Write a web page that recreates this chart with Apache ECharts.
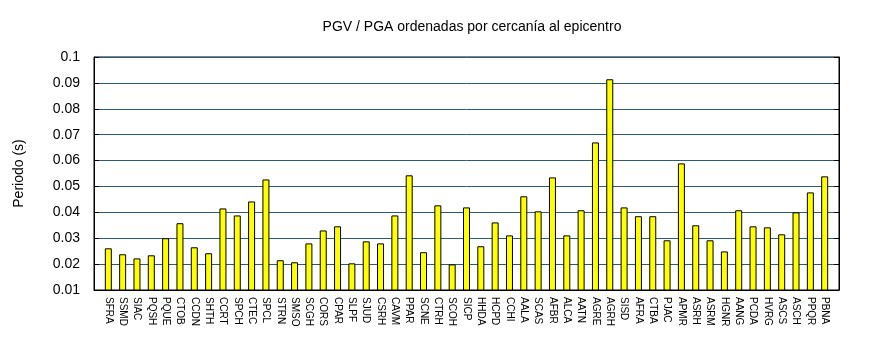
<!DOCTYPE html>
<html>
<head>
<meta charset="utf-8">
<script src="https://cdn.jsdelivr.net/npm/echarts@6/dist/echarts.min.js"></script>
<style>html,body{margin:0;padding:0;background:#fff}#c{width:870px;height:350px}</style>
</head>
<body>
<div id="c"></div>
<script>
const categories = ["SFRA","SSMD","SIAC","PQSH","PQUE","CTOB","CCDN","SHTH","CCRT","SPCH","CTEC","SPCL","STRN","SMSO","SCGH","CORS","CPAR","SLPF","SJUD","CSRH","CAVM","PPAR","SCNE","CTRH","SCOH","SICP","HHDA","HCPD","CCHI","AALA","SCAS","AFBR","ALCA","AATN","AGRE","AGRH","SISD","AFRA","CTBA","PJAC","APMR","ASRH","ASRM","HGNR","AANG","PCDA","HVRG","ASCS","ASCH","PPQR","PBNA"];
const periodo = [0.0261,0.0238,0.0222,0.0234,0.0300,0.0358,0.0265,0.0242,0.0415,0.0388,0.0442,0.0527,0.0215,0.0207,0.0280,0.0330,0.0346,0.0203,0.0288,0.0280,0.0388,0.0543,0.0246,0.0427,0.0199,0.0419,0.0269,0.0361,0.0311,0.0462,0.0404,0.0535,0.0311,0.0408,0.0670,0.0914,0.0419,0.0385,0.0385,0.0292,0.0589,0.0350,0.0292,0.0249,0.0408,0.0346,0.0342,0.0315,0.0400,0.0477,0.0539];
const yMin = 0.01, yMax = 0.1, yStep = 0.01;
const titleText = "PGV / PGA ordenadas por cercanía al epicentro";
const yName = "Periodo (s)";

// pad one empty slot on each side (the reference leaves a full step before the first and after the last bar)
const xData = [''].concat(categories, ['']);
const yData = [null].concat(periodo, [null]);

const chart = echarts.init(document.getElementById('c'), null, {renderer:'canvas'});
const fmt = v => String(parseFloat(v.toFixed(3)));
chart.setOption({
  animation:false,
  title:{text:titleText,left:467,top:15,textAlign:'center',textStyle:{fontFamily:'Liberation Sans',fontSize:14,fontWeight:'normal',color:'#000'}},
  grid:{left:94,right:31,top:57,bottom:60,show:true,borderColor:'#000',borderWidth:1,backgroundColor:'transparent'},
  xAxis:{type:'category',data:xData,boundaryGap:false,
    axisLine:{lineStyle:{color:'#000',width:1}},axisTick:{show:false},
    axisLabel:{interval:0,rotate:-90,margin:7,fontFamily:'Liberation Sans',fontSize:10,color:'#000'}},
  yAxis:[{type:'value',min:yMin,max:yMax,interval:yStep,name:yName,nameLocation:'middle',nameGap:68,
    nameTextStyle:{fontFamily:'Liberation Sans',fontSize:14,color:'#000'},
    axisLine:{show:true,lineStyle:{color:'#000'}},
    axisTick:{show:true,inside:true,length:5,lineStyle:{color:'#000'}},
    axisLabel:{formatter:fmt,fontFamily:'Liberation Sans',fontSize:14,color:'#000',margin:14},
    splitLine:{show:true,lineStyle:{color:'#2c5a7c',width:1}}},
   {type:'value',min:yMin,max:yMax,interval:yStep,position:'right',
    axisLine:{show:true,lineStyle:{color:'#000'}},
    axisTick:{show:true,inside:true,length:5,lineStyle:{color:'#000'}},
    axisLabel:{show:false},splitLine:{show:false}}],
  series:[{type:'bar',data:yData,barWidth:7,
    itemStyle:{color:'#ffff00',borderColor:'#000',borderWidth:1}}]
});
</script>
</body>
</html>
